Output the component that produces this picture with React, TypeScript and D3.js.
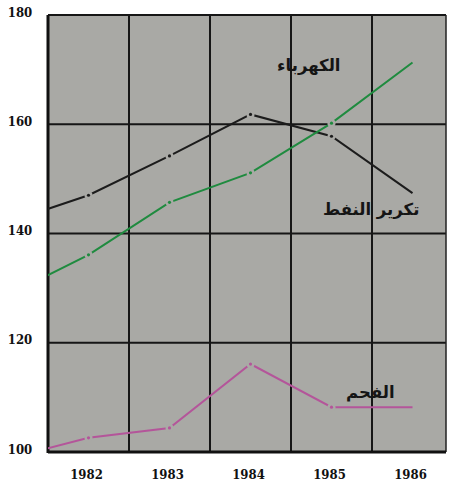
import React from 'react'
import * as d3 from 'd3'

// years; 1981 value only feeds the segment entering the left edge (clipped)
const years = [1981, 1982, 1983, 1984, 1985, 1986]
const oilRefining = [142.0, 147.0, 154.2, 161.8, 157.8, 147.4]
const electricity = [128.7, 136.1, 145.7, 151.1, 160.2, 171.3]
const coal = [98.8, 102.6, 104.4, 116.1, 108.2, 108.2]

const xTicks = [1982, 1983, 1984, 1985, 1986]
const yTicks = [100, 120, 140, 160, 180]
const xGrid = [1982.5, 1983.5, 1984.5, 1985.5]

const seriesLabels = [
  { name: 'تكرير النفط', values: oilRefining, color: '#1c1c1c', lx: 1985.49, ly: 144.4 },
  { name: 'الكهرباء', values: electricity, color: '#1f8b3f', lx: 1984.72, ly: 170.8 },
  { name: 'الفحم', values: coal, color: '#b4559a', lx: 1985.48, ly: 110.9 },
]

const W = 451
const H = 487
const BG = '#a9a9a5'

export default function App() {
  const x = d3.scaleLinear().domain([1981.5, 1986.5]).range([48, 453])
  const y = d3.scaleLinear().domain([100, 180]).range([452, 15])
  const left = 48
  const right = 446
  const top = y(180)
  const bottom = y(100)

  const line = d3
    .line<number>()
    .x((_, i) => x(years[i]))
    .y((d) => y(d))

  return (
    <svg
      width={W}
      height={H}
      style={{ position: 'absolute', left: 0, top: 0, background: '#fff' }}
    >
      <defs>
        <clipPath id="plot-clip">
          <rect x={left} y={top} width={right - left} height={bottom - top} />
        </clipPath>
      </defs>

      <rect x={left} y={top} width={right - left} height={bottom - top} fill={BG} />

      {/* grid */}
      {yTicks.map((t) => (
        <line key={'h' + t} x1={left} x2={right} y1={y(t)} y2={y(t)} stroke="#161616" strokeWidth={2} />
      ))}
      {xGrid.map((t) => (
        <line key={'v' + t} x1={x(t)} x2={x(t)} y1={top} y2={bottom} stroke="#161616" strokeWidth={2} />
      ))}
      <line x1={left} x2={left} y1={top} y2={bottom + 1} stroke="#111" strokeWidth={3} />
      <line x1={right} x2={right} y1={top} y2={bottom} stroke="#222" strokeWidth={1.5} />
      <line x1={left} x2={right} y1={bottom} y2={bottom} stroke="#111" strokeWidth={3} />

      {/* series */}
      <g clipPath="url(#plot-clip)">
        {seriesLabels.map((s) => (
          <g key={s.name}>
            <path d={line(s.values) || ''} fill="none" stroke={s.color} strokeWidth={2} />
            {s.values.slice(1, 5).map((v, i) => (
              <g key={i}>
                <circle cx={x(years[i + 1])} cy={y(v)} r={4} fill={BG} />
                <circle cx={x(years[i + 1])} cy={y(v)} r={1.6} fill={s.color} />
              </g>
            ))}
          </g>
        ))}
      </g>

      {/* series labels */}
      {seriesLabels.map((s) => (
        <text
          key={'l' + s.name}
          x={x(s.lx)}
          y={y(s.ly)}
          textAnchor="middle"
          dominantBaseline="central"
          fontFamily="'DejaVu Sans', sans-serif"
          fontWeight="bold"
          fontSize={16.5}
          fill="#151515"
        >
          {s.name}
        </text>
      ))}

      {/* axis labels */}
      {yTicks.map((t) => (
        <text
          key={'yl' + t}
          x={20}
          y={y(t) - 3}
          textAnchor="middle"
          dominantBaseline="central"
          fontFamily="'DejaVu Serif Condensed', 'DejaVu Serif', serif"
          fontWeight="bold"
          fontSize={13}
          fill="#111"
        >
          {t}
        </text>
      ))}
      {xTicks.map((t) => (
        <text
          key={'xl' + t}
          x={x(t) - 2}
          y={474}
          textAnchor="middle"
          dominantBaseline="central"
          fontFamily="'DejaVu Serif Condensed', 'DejaVu Serif', serif"
          fontWeight="bold"
          fontSize={13}
          fill="#111"
        >
          {t}
        </text>
      ))}
    </svg>
  )
}
